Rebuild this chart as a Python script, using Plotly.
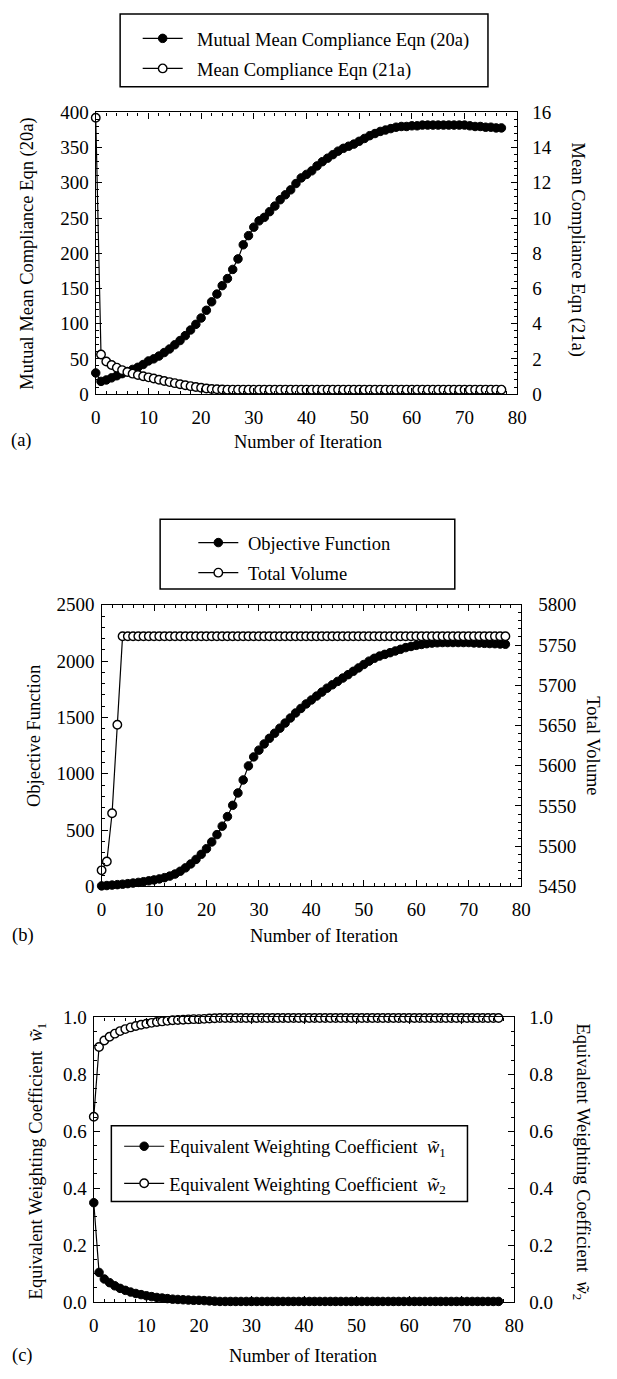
import plotly.graph_objects as go

W, H = 617, 1379
FONT = "Liberation Serif"

# ---------------- data ----------------
iterations = list(range(78))

# (a)
mutual_mean_compliance = [
    30, 18, 20, 23, 26, 29, 32, 35, 38, 42,
    47, 50, 54, 59, 64, 70, 76, 83, 91, 99,
    108, 119, 131, 142, 154, 164, 177, 192, 212, 225,
    237, 246, 251, 259, 267, 276, 283, 290, 299, 307,
    312, 317, 324, 330, 335, 340, 345, 349, 352, 355,
    359, 363, 367, 370, 373, 375, 377, 379, 380, 380,
    381, 381, 382, 382, 382, 382, 382, 382, 382, 382,
    382, 381, 380, 380, 379, 379, 378, 378]
mean_compliance = [
    15.7, 2.25, 1.85, 1.65, 1.5, 1.36, 1.25, 1.16, 1.08, 1.01,
    0.95, 0.88, 0.81, 0.74, 0.68, 0.62, 0.56, 0.5, 0.45, 0.4,
    0.36, 0.32, 0.29, 0.27, 0.26, 0.25, 0.25, 0.25, 0.25, 0.25,
    0.25, 0.25, 0.25, 0.25, 0.25, 0.25, 0.25, 0.25, 0.25, 0.25,
    0.25, 0.25, 0.25, 0.25, 0.25, 0.25, 0.25, 0.25, 0.25, 0.25,
    0.25, 0.25, 0.25, 0.25, 0.25, 0.25, 0.25, 0.25, 0.25, 0.25,
    0.25, 0.25, 0.25, 0.25, 0.25, 0.25, 0.25, 0.25, 0.25, 0.25,
    0.25, 0.25, 0.25, 0.25, 0.25, 0.25, 0.25, 0.25]

# (b)
objective_function = [
    5, 8, 12, 16, 20, 25, 30, 36, 42, 50,
    58, 67, 78, 92, 110, 135, 165, 200, 240, 285,
    335, 395, 460, 535, 620, 720, 830, 945, 1070, 1150,
    1210, 1265, 1315, 1360, 1405, 1450, 1495, 1540, 1580, 1620,
    1655, 1690, 1725, 1760, 1790, 1820, 1850, 1880, 1910, 1940,
    1970, 2000, 2025, 2045, 2060, 2075, 2090, 2105, 2120, 2130,
    2140, 2148, 2155, 2160, 2163, 2165, 2165, 2165, 2165, 2165,
    2165, 2162, 2160, 2158, 2156, 2155, 2152, 2150]
total_volume = [
    5470, 5481, 5541, 5651, 5761, 5761, 5761, 5761, 5761, 5761,
    5761, 5761, 5761, 5761, 5761, 5761, 5761, 5761, 5761, 5761,
    5761, 5761, 5761, 5761, 5761, 5761, 5761, 5761, 5761, 5761,
    5761, 5761, 5761, 5761, 5761, 5761, 5761, 5761, 5761, 5761,
    5761, 5761, 5761, 5761, 5761, 5761, 5761, 5761, 5761, 5761,
    5761, 5761, 5761, 5761, 5761, 5761, 5761, 5761, 5761, 5761,
    5761, 5761, 5761, 5761, 5761, 5761, 5761, 5761, 5761, 5761,
    5761, 5761, 5761, 5761, 5761, 5761, 5761, 5761]

# (c)
weight_w1 = [
    0.349, 0.104, 0.081, 0.068, 0.057, 0.048, 0.041, 0.035, 0.030, 0.026,
    0.022, 0.019, 0.016, 0.014, 0.012, 0.010, 0.009, 0.008, 0.007, 0.006,
    0.006, 0.005, 0.004, 0.003, 0.002, 0.002, 0.002, 0.002, 0.002, 0.002,
    0.002, 0.002, 0.002, 0.002, 0.002, 0.002, 0.002, 0.002, 0.002, 0.002,
    0.002, 0.002, 0.002, 0.002, 0.002, 0.002, 0.002, 0.002, 0.002, 0.002,
    0.002, 0.002, 0.002, 0.002, 0.002, 0.002, 0.002, 0.002, 0.002, 0.002,
    0.002, 0.002, 0.002, 0.002, 0.002, 0.002, 0.002, 0.002, 0.002, 0.002,
    0.002, 0.002, 0.002, 0.002, 0.002, 0.002, 0.002, 0.002]
weight_w2 = [
    0.651, 0.896, 0.919, 0.932, 0.943, 0.952, 0.959, 0.965, 0.970, 0.974,
    0.978, 0.981, 0.984, 0.986, 0.988, 0.990, 0.991, 0.992, 0.993, 0.994,
    0.994, 0.995, 0.996, 0.997, 0.998, 0.998, 0.998, 0.998, 0.998, 0.998,
    0.998, 0.998, 0.998, 0.998, 0.998, 0.998, 0.998, 0.998, 0.998, 0.998,
    0.998, 0.998, 0.998, 0.998, 0.998, 0.998, 0.998, 0.998, 0.998, 0.998,
    0.998, 0.998, 0.998, 0.998, 0.998, 0.998, 0.998, 0.998, 0.998, 0.998,
    0.998, 0.998, 0.998, 0.998, 0.998, 0.998, 0.998, 0.998, 0.998, 0.998,
    0.998, 0.998, 0.998, 0.998, 0.998, 0.998, 0.998, 0.998]

W1 = "<i>w\u0303</i><sub>1</sub>"
W2 = "<i>w\u0303</i><sub>2</sub>"
NB = "\u00a0"

# ---------------- helpers ----------------
def px(x):
    return x / W

def py(y):
    return 1 - y / H

filled = dict(symbol="circle", size=8.5, color="black", line=dict(color="black", width=1))
hollow = dict(symbol="circle", size=8.5, color="white", line=dict(color="black", width=1.4))
LINE = dict(color="black", width=1.2)

fig = go.Figure()

def add(x, y, name, marker, xa, ya, legend, group):
    fig.add_trace(go.Scatter(
        x=x, y=y, name=name, mode="lines+markers", marker=marker, line=LINE,
        xaxis=xa, yaxis=ya, legend=legend, legendgroup=group, cliponaxis=False))

add(iterations, mutual_mean_compliance, NB * 2 + "Mutual Mean Compliance Eqn (20a)", filled, "x", "y", "legend", "a1")
add(iterations, mean_compliance, NB * 2 + "Mean Compliance Eqn (21a)", hollow, "x", "y2", "legend", "a2")
add(iterations, objective_function, NB + "Objective Function", filled, "x2", "y3", "legend2", "b1")
add(iterations, total_volume, NB + "Total Volume", hollow, "x2", "y4", "legend2", "b2")
add(iterations, weight_w1, "Equivalent Weighting Coefficient  " + W1, filled, "x3", "y5", "legend3", "c1")
add(iterations, weight_w2, "Equivalent Weighting Coefficient  " + W2, hollow, "x3", "y6", "legend3", "c2")

tickfont = dict(family=FONT, size=19, color="black")
common = dict(showline=True, linecolor="black", linewidth=1.4, showgrid=False, zeroline=False,
              ticks="inside", ticklen=6, tickwidth=1.2, tickcolor="black", tickfont=tickfont)

def xax(domain, anchor):
    return dict(common, domain=domain, anchor=anchor, range=[0, 80], dtick=10, tick0=0,
                mirror="ticks", ticklabelstandoff=6,
                minor=dict(dtick=2, ticks="inside", ticklen=3, tickcolor="black", tickwidth=1))

def yax(domain, anchor, rng, dtick, mdtick, fmt=None, side="left", overlaying=None, standoff=2):
    d = dict(common, domain=domain, anchor=anchor, range=rng, dtick=dtick, tick0=rng[0],
             side=side, ticklabelstandoff=standoff,
             minor=dict(dtick=mdtick, ticks="inside", ticklen=3, tickcolor="black", tickwidth=1))
    if fmt:
        d["tickformat"] = fmt
    if overlaying:
        d["overlaying"] = overlaying
    return d

dom_a = dict(x=[px(93), px(525)], y=[py(390), py(104)])
dom_b = dict(x=[px(99), px(529)], y=[py(890), py(604)])
dom_c = dict(x=[px(91), px(522)], y=[py(1312), py(1023)])

legfont = dict(family=FONT, size=18.5, color="black")
def leg(x, y, gap):
    return dict(x=px(x), y=py(y), xanchor="left", yanchor="top", font=legfont,
                bgcolor="rgba(0,0,0,0)", borderwidth=0, tracegroupgap=gap, itemwidth=40)

fig.update_layout(
    width=W, height=H, margin=dict(l=0, r=0, t=0, b=0),
    paper_bgcolor="white", plot_bgcolor="white",
    font=dict(family=FONT, color="black"),
    xaxis=xax(dom_a["x"], "y"),
    yaxis=yax(dom_a["y"], "x", [0, 400], 50, 10),
    yaxis2=yax(dom_a["y"], "x", [0, 16], 2, 0.4, side="right", overlaying="y", standoff=10),
    xaxis2=xax(dom_b["x"], "y3"),
    yaxis3=yax(dom_b["y"], "x2", [0, 2500], 500, 100),
    yaxis4=yax(dom_b["y"], "x2", [5450, 5800], 50, 10, side="right", overlaying="y3", standoff=12),
    xaxis3=xax(dom_c["x"], "y5"),
    yaxis5=yax(dom_c["y"], "x3", [0, 1], 0.2, 0.05, fmt=".1f"),
    yaxis6=yax(dom_c["y"], "x3", [0, 1], 0.2, 0.05, fmt=".1f", side="right", overlaying="y5", standoff=10),
    legend=leg(136, 10, 3),
    legend2=leg(193, 522, 3),
    legend3=leg(117, 1135, 10),
    showlegend=True,
)

# legend boxes
for (x0, y0, x1, y1) in [(118, 4, 495, 78), (159, 517, 461, 588), (109, 1133, 474, 1210)]:
    fig.add_shape(type="rect", xref="paper", yref="paper",
                  x0=px(x0), x1=px(x1), y0=py(y1), y1=py(y0),
                  line=dict(color="black", width=1.5), fillcolor="rgba(0,0,0,0)")

tfont = dict(family=FONT, size=18.5, color="black")
def text(x, y, s, angle=0):
    fig.add_annotation(x=px(x), y=py(y), xref="paper", yref="paper", text=s, showarrow=False,
                       textangle=angle, font=tfont, xanchor="center", yanchor="middle")

# (a)
text(23, 247, "Mutual Mean Compliance Eqn (20a)", -90)
text(587, 243, "Mean Compliance Eqn (21a)", 90)
text(311, 439, "Number of Iteration")
text(17, 437, "(a)")
# (b)
text(30, 737, "Objective Function", -90)
text(603, 747, "Total Volume", 90)
text(327, 940, "Number of Iteration")
text(18, 940, "(b)")
# (c)
text(33, 1169, "Equivalent Weighting Coefficient  " + W1, -90)
text(591, 1170, "Equivalent Weighting Coefficient  " + W2, 90)
text(305, 1367, "Number of Iteration")
text(18, 1366, "(c)")

fig.write_html("out.html", config={"displayModeBar": False},
               post_script="document.body.style.margin='0';document.body.style.padding='0';")
